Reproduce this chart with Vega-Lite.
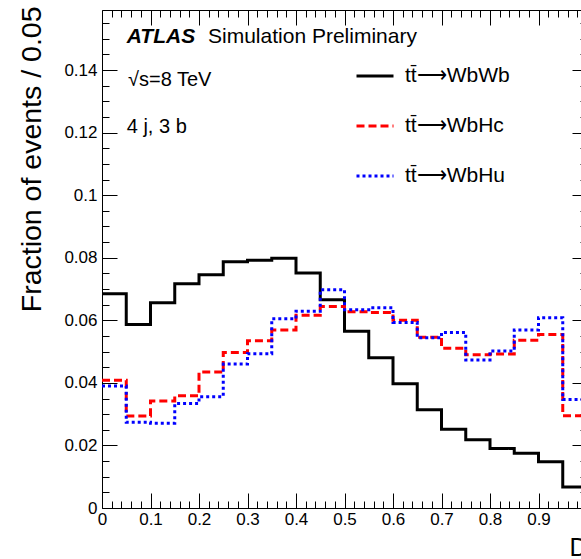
{
  "$schema": "https://vega.github.io/schema/vega-lite/v6.json",
  "width": 479,
  "height": 498,
  "autosize": {"type": "none"},
  "padding": {"left": 102, "top": 10, "right": 0, "bottom": 51},
  "background": "white",
  "config": {
    "view": {"stroke": null},
    "font": "Liberation Sans",
    "axis": {"labelFont": "Liberation Sans", "titleFont": "Liberation Sans", "grid": false, "labelColor": "#000", "titleColor": "#000", "tickColor": "#000", "domainColor": "#000", "titleFontWeight": "normal", "labelFlush": false, "labelOverlap": false}
  },
  "data": {"values": [
    {"series": "tt\u0304\u27f6WbWb", "x": 0, "y": 0.0685},
    {"series": "tt\u0304\u27f6WbWb", "x": 0.05, "y": 0.0587},
    {"series": "tt\u0304\u27f6WbWb", "x": 0.1, "y": 0.0656},
    {"series": "tt\u0304\u27f6WbWb", "x": 0.15, "y": 0.0717},
    {"series": "tt\u0304\u27f6WbWb", "x": 0.2, "y": 0.0746},
    {"series": "tt\u0304\u27f6WbWb", "x": 0.25, "y": 0.0787},
    {"series": "tt\u0304\u27f6WbWb", "x": 0.3, "y": 0.0792},
    {"series": "tt\u0304\u27f6WbWb", "x": 0.35, "y": 0.0798},
    {"series": "tt\u0304\u27f6WbWb", "x": 0.4, "y": 0.0751},
    {"series": "tt\u0304\u27f6WbWb", "x": 0.45, "y": 0.0666},
    {"series": "tt\u0304\u27f6WbWb", "x": 0.5, "y": 0.0565},
    {"series": "tt\u0304\u27f6WbWb", "x": 0.55, "y": 0.048},
    {"series": "tt\u0304\u27f6WbWb", "x": 0.6, "y": 0.0397},
    {"series": "tt\u0304\u27f6WbWb", "x": 0.65, "y": 0.0314},
    {"series": "tt\u0304\u27f6WbWb", "x": 0.7, "y": 0.0252},
    {"series": "tt\u0304\u27f6WbWb", "x": 0.75, "y": 0.0218},
    {"series": "tt\u0304\u27f6WbWb", "x": 0.8, "y": 0.019},
    {"series": "tt\u0304\u27f6WbWb", "x": 0.85, "y": 0.0175},
    {"series": "tt\u0304\u27f6WbWb", "x": 0.9, "y": 0.0148},
    {"series": "tt\u0304\u27f6WbWb", "x": 0.95, "y": 0.0067},
    {"series": "tt\u0304\u27f6WbWb", "x": 1.0, "y": 0.0067},
    {"series": "tt\u0304\u27f6WbHc", "x": 0, "y": 0.0408},
    {"series": "tt\u0304\u27f6WbHc", "x": 0.05, "y": 0.0294},
    {"series": "tt\u0304\u27f6WbHc", "x": 0.1, "y": 0.0342},
    {"series": "tt\u0304\u27f6WbHc", "x": 0.15, "y": 0.0359},
    {"series": "tt\u0304\u27f6WbHc", "x": 0.2, "y": 0.0435},
    {"series": "tt\u0304\u27f6WbHc", "x": 0.25, "y": 0.0497},
    {"series": "tt\u0304\u27f6WbHc", "x": 0.3, "y": 0.0535},
    {"series": "tt\u0304\u27f6WbHc", "x": 0.35, "y": 0.0569},
    {"series": "tt\u0304\u27f6WbHc", "x": 0.4, "y": 0.0616},
    {"series": "tt\u0304\u27f6WbHc", "x": 0.45, "y": 0.0644},
    {"series": "tt\u0304\u27f6WbHc", "x": 0.5, "y": 0.0627},
    {"series": "tt\u0304\u27f6WbHc", "x": 0.55, "y": 0.0625},
    {"series": "tt\u0304\u27f6WbHc", "x": 0.6, "y": 0.06},
    {"series": "tt\u0304\u27f6WbHc", "x": 0.65, "y": 0.0546},
    {"series": "tt\u0304\u27f6WbHc", "x": 0.7, "y": 0.0511},
    {"series": "tt\u0304\u27f6WbHc", "x": 0.75, "y": 0.049},
    {"series": "tt\u0304\u27f6WbHc", "x": 0.8, "y": 0.0492},
    {"series": "tt\u0304\u27f6WbHc", "x": 0.85, "y": 0.0536},
    {"series": "tt\u0304\u27f6WbHc", "x": 0.9, "y": 0.0555},
    {"series": "tt\u0304\u27f6WbHc", "x": 0.95, "y": 0.0295},
    {"series": "tt\u0304\u27f6WbHc", "x": 1.0, "y": 0.0295},
    {"series": "tt\u0304\u27f6WbHu", "x": 0, "y": 0.039},
    {"series": "tt\u0304\u27f6WbHu", "x": 0.05, "y": 0.0274},
    {"series": "tt\u0304\u27f6WbHu", "x": 0.1, "y": 0.0271},
    {"series": "tt\u0304\u27f6WbHu", "x": 0.15, "y": 0.0334},
    {"series": "tt\u0304\u27f6WbHu", "x": 0.2, "y": 0.0356},
    {"series": "tt\u0304\u27f6WbHu", "x": 0.25, "y": 0.046},
    {"series": "tt\u0304\u27f6WbHu", "x": 0.3, "y": 0.0493},
    {"series": "tt\u0304\u27f6WbHu", "x": 0.35, "y": 0.0605},
    {"series": "tt\u0304\u27f6WbHu", "x": 0.4, "y": 0.0629},
    {"series": "tt\u0304\u27f6WbHu", "x": 0.45, "y": 0.0698},
    {"series": "tt\u0304\u27f6WbHu", "x": 0.5, "y": 0.0634},
    {"series": "tt\u0304\u27f6WbHu", "x": 0.55, "y": 0.064},
    {"series": "tt\u0304\u27f6WbHu", "x": 0.6, "y": 0.0593},
    {"series": "tt\u0304\u27f6WbHu", "x": 0.65, "y": 0.0544},
    {"series": "tt\u0304\u27f6WbHu", "x": 0.7, "y": 0.0561},
    {"series": "tt\u0304\u27f6WbHu", "x": 0.75, "y": 0.0473},
    {"series": "tt\u0304\u27f6WbHu", "x": 0.8, "y": 0.0502},
    {"series": "tt\u0304\u27f6WbHu", "x": 0.85, "y": 0.0569},
    {"series": "tt\u0304\u27f6WbHu", "x": 0.9, "y": 0.0608},
    {"series": "tt\u0304\u27f6WbHu", "x": 0.95, "y": 0.0347},
    {"series": "tt\u0304\u27f6WbHu", "x": 1.0, "y": 0.0347}
  ]},
  "resolve": {"axis": {"x": "independent", "y": "independent"}},
  "layer": [
    {
      "mark": {"type": "line", "interpolate": "step-after", "strokeWidth": 3, "strokeCap": "butt", "strokeJoin": "miter"},
      "encoding": {
        "x": {"field": "x", "type": "quantitative", "scale": {"domain": [0, 1], "range": [0, 485], "nice": false, "zero": false},
          "axis": {"orient": "bottom", "values": [0, 0.1, 0.2, 0.3, 0.4, 0.5, 0.6, 0.7, 0.8, 0.9], "format": "~g", "ticks": false, "labelFontSize": 17, "labelPadding": 3, "domain": true, "domainWidth": 1, "title": "D", "titleFontSize": 25, "titleX": 485, "titleY": 47, "titleAlign": "right", "titleBaseline": "alphabetic", "titleAngle": 0}},
        "y": {"field": "y", "type": "quantitative", "scale": {"domain": [0, 0.1592], "nice": false, "zero": false},
          "axis": {"orient": "left", "values": [0, 0.02, 0.04, 0.06, 0.08, 0.1, 0.12, 0.14], "format": "~g", "ticks": false, "labelFontSize": 17, "labelPadding": 5, "domain": true, "domainWidth": 1, "title": "Fraction of events / 0.05", "titleFontSize": 28.5, "titleX": -62, "titleY": -4, "titleAlign": "right", "titleBaseline": "alphabetic", "titleAngle": -90}},
        "color": {"field": "series", "type": "nominal",
          "scale": {"domain": ["tt\u0304\u27f6WbWb", "tt\u0304\u27f6WbHc", "tt\u0304\u27f6WbHu"], "range": ["#000000", "#ff0000", "#0000ff"]},
          "legend": {"title": null, "orient": "none", "legendX": 253, "legendY": 46, "symbolType": "stroke", "symbolSize": 1369, "symbolStrokeWidth": 3, "labelFontSize": 21, "labelFont": "Liberation Sans", "labelColor": "#000", "labelOffset": 10, "rowPadding": 20, "padding": 0, "labelLimit": 0}},
        "strokeDash": {"field": "series", "type": "nominal",
          "scale": {"domain": ["tt\u0304\u27f6WbWb", "tt\u0304\u27f6WbHc", "tt\u0304\u27f6WbHu"], "range": [[1, 0], [8, 4], [3, 3]]},
          "legend": {"title": null, "orient": "none", "legendX": 253, "legendY": 46, "symbolType": "stroke", "symbolSize": 1369, "symbolStrokeWidth": 3, "labelFontSize": 21, "labelFont": "Liberation Sans", "labelColor": "#000", "labelOffset": 10, "rowPadding": 20, "padding": 0, "labelLimit": 0}},
        "order": {"field": "x", "type": "quantitative"}
      }
    },
    {
      "mark": {"type": "point", "opacity": 0, "size": 0},
      "encoding": {
        "x": {"field": "x", "type": "quantitative", "scale": {"domain": [0, 1], "range": [0, 485], "nice": false, "zero": false},
          "axis": {"orient": "bottom", "values": [0, 0.1, 0.2, 0.3, 0.4, 0.5, 0.6, 0.7, 0.8, 0.9, 1], "labels": false, "domain": false, "ticks": true, "tickSize": -15, "tickWidth": 1, "title": null}},
        "y": {"field": "y", "type": "quantitative", "scale": {"domain": [0, 0.1592], "nice": false, "zero": false},
          "axis": {"orient": "left", "values": [0, 0.02, 0.04, 0.06, 0.08, 0.1, 0.12, 0.14], "labels": false, "domain": false, "ticks": true, "tickSize": -15, "tickWidth": 1, "title": null}}
      }
    },
    {
      "mark": {"type": "point", "opacity": 0, "size": 0},
      "encoding": {
        "x": {"field": "x", "type": "quantitative", "scale": {"domain": [0, 1], "range": [0, 485], "nice": false, "zero": false},
          "axis": {"orient": "bottom", "values": [0.02, 0.04, 0.06, 0.08, 0.12, 0.14, 0.16, 0.18, 0.22, 0.24, 0.26, 0.28, 0.32, 0.34, 0.36, 0.38, 0.42, 0.44, 0.46, 0.48, 0.52, 0.54, 0.56, 0.58, 0.62, 0.64, 0.66, 0.68, 0.72, 0.74, 0.76, 0.78, 0.82, 0.84, 0.86, 0.88, 0.92, 0.94, 0.96, 0.98], "labels": false, "domain": false, "ticks": true, "tickSize": -7, "tickWidth": 1, "title": null}},
        "y": {"field": "y", "type": "quantitative", "scale": {"domain": [0, 0.1592], "nice": false, "zero": false},
          "axis": {"orient": "left", "values": [0.005, 0.01, 0.015, 0.025, 0.03, 0.035, 0.045, 0.05, 0.055, 0.065, 0.07, 0.075, 0.085, 0.09, 0.095, 0.105, 0.11, 0.115, 0.125, 0.13, 0.135, 0.145, 0.15, 0.155], "labels": false, "domain": false, "ticks": true, "tickSize": -7, "tickWidth": 1, "title": null}}
      }
    },
    {
      "mark": {"type": "point", "opacity": 0, "size": 0},
      "encoding": {
        "x": {"field": "x", "type": "quantitative", "scale": {"domain": [0, 1], "range": [0, 485], "nice": false, "zero": false},
          "axis": {"orient": "top", "values": [0, 0.1, 0.2, 0.3, 0.4, 0.5, 0.6, 0.7, 0.8, 0.9, 1], "labels": false, "domain": true, "domainWidth": 1, "ticks": true, "tickSize": -15, "tickWidth": 1, "title": null}},
        "y": {"field": "y", "type": "quantitative", "scale": {"domain": [0, 0.1592], "nice": false, "zero": false},
          "axis": {"orient": "right", "offset": 6, "values": [0, 0.02, 0.04, 0.06, 0.08, 0.1, 0.12, 0.14], "labels": false, "domain": true, "ticks": true, "tickSize": -15, "tickWidth": 1, "title": null}}
      }
    },
    {
      "mark": {"type": "point", "opacity": 0, "size": 0},
      "encoding": {
        "x": {"field": "x", "type": "quantitative", "scale": {"domain": [0, 1], "range": [0, 485], "nice": false, "zero": false},
          "axis": {"orient": "top", "values": [0.02, 0.04, 0.06, 0.08, 0.12, 0.14, 0.16, 0.18, 0.22, 0.24, 0.26, 0.28, 0.32, 0.34, 0.36, 0.38, 0.42, 0.44, 0.46, 0.48, 0.52, 0.54, 0.56, 0.58, 0.62, 0.64, 0.66, 0.68, 0.72, 0.74, 0.76, 0.78, 0.82, 0.84, 0.86, 0.88, 0.92, 0.94, 0.96, 0.98], "labels": false, "domain": false, "ticks": true, "tickSize": -7, "tickWidth": 1, "title": null}},
        "y": {"field": "y", "type": "quantitative", "scale": {"domain": [0, 0.1592], "nice": false, "zero": false},
          "axis": {"orient": "right", "offset": 6, "values": [0.005, 0.01, 0.015, 0.025, 0.03, 0.035, 0.045, 0.05, 0.055, 0.065, 0.07, 0.075, 0.085, 0.09, 0.095, 0.105, 0.11, 0.115, 0.125, 0.13, 0.135, 0.145, 0.15, 0.155], "labels": false, "domain": false, "ticks": true, "tickSize": -7, "tickWidth": 1, "title": null}}
      }
    },
    {
      "data": {"values": [{"label": "ATLAS"}]},
      "mark": {"type": "text", "font": "Liberation Sans", "fontSize": 21, "fontWeight": "bold", "fontStyle": "italic", "align": "left", "baseline": "alphabetic", "color": "#000"},
      "encoding": {"text": {"field": "label"}, "x": {"datum": 0.051, "type": "quantitative", "axis": null}, "y": {"datum": 0.1487, "type": "quantitative", "axis": null}}
    },
    {
      "data": {"values": [{"label": "Simulation Preliminary"}]},
      "mark": {"type": "text", "font": "Liberation Sans", "fontSize": 21, "align": "left", "baseline": "alphabetic", "color": "#000"},
      "encoding": {"text": {"field": "label"}, "x": {"datum": 0.2186, "type": "quantitative", "axis": null}, "y": {"datum": 0.1487, "type": "quantitative", "axis": null}}
    },
    {
      "data": {"values": [{"label": "\u221as=8 TeV"}]},
      "mark": {"type": "text", "font": "Liberation Sans", "fontSize": 20, "align": "left", "baseline": "alphabetic", "color": "#000"},
      "encoding": {"text": {"field": "label"}, "x": {"datum": 0.0536, "type": "quantitative", "axis": null}, "y": {"datum": 0.1348, "type": "quantitative", "axis": null}}
    },
    {
      "data": {"values": [{"label": "4 j, 3 b"}]},
      "mark": {"type": "text", "font": "Liberation Sans", "fontSize": 20, "align": "left", "baseline": "alphabetic", "color": "#000"},
      "encoding": {"text": {"field": "label"}, "x": {"datum": 0.051, "type": "quantitative", "axis": null}, "y": {"datum": 0.1198, "type": "quantitative", "axis": null}}
    }
  ]
}
